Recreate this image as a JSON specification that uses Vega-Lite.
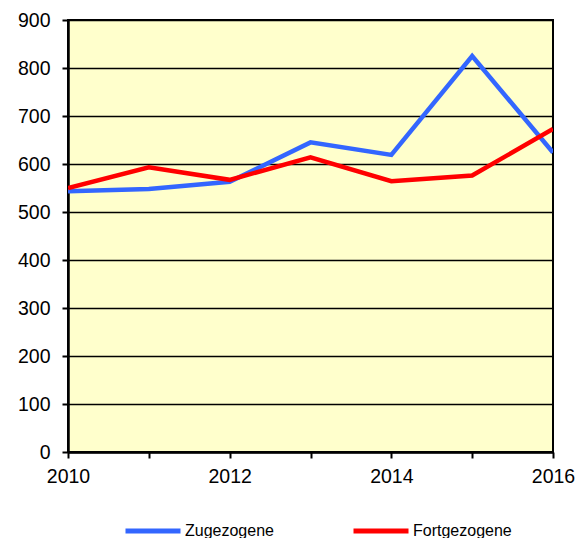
{
  "$schema": "https://vega.github.io/schema/vega-lite/v6.json",
  "width": 485,
  "height": 432,
  "autosize": {"type": "none"},
  "padding": {"left": 68, "top": 20, "right": 35, "bottom": 86},
  "background": "white",
  "config": {
    "font": "Liberation Sans",
    "view": {"fill": "#FFFFCC", "stroke": "black", "strokeWidth": 2},
    "legend": {"padding": 0, "offset": 0},
    "axis": {
      "domainColor": "black", "domainWidth": 2.5,
      "tickColor": "black", "tickWidth": 2, "tickSize": 6,
      "labelColor": "black", "labelFontSize": 19.5, "labelFont": "Liberation Sans",
      "gridColor": "black", "gridWidth": 1.5, "gridOpacity": 1,
      "title": null
    }
  },
  "data": {"values": [
    {"year": 2010, "series": "Zugezogene", "value": 543},
    {"year": 2011, "series": "Zugezogene", "value": 548},
    {"year": 2012, "series": "Zugezogene", "value": 563},
    {"year": 2013, "series": "Zugezogene", "value": 645},
    {"year": 2014, "series": "Zugezogene", "value": 619},
    {"year": 2015, "series": "Zugezogene", "value": 825},
    {"year": 2016, "series": "Zugezogene", "value": 624},
    {"year": 2010, "series": "Fortgezogene", "value": 550},
    {"year": 2011, "series": "Fortgezogene", "value": 593},
    {"year": 2012, "series": "Fortgezogene", "value": 567},
    {"year": 2013, "series": "Fortgezogene", "value": 614},
    {"year": 2014, "series": "Fortgezogene", "value": 564},
    {"year": 2015, "series": "Fortgezogene", "value": 576},
    {"year": 2016, "series": "Fortgezogene", "value": 673}
  ]},
  "mark": {"type": "line", "strokeWidth": 4.5, "clip": true},
  "encoding": {
    "x": {
      "field": "year", "type": "quantitative",
      "scale": {"domain": [2010, 2016], "nice": false, "zero": false},
      "axis": {
        "values": [2010, 2011, 2012, 2013, 2014, 2015, 2016],
        "format": "d",
        "labelExpr": "datum.value % 2 == 0 ? datum.label : ''",
        "grid": false, "labelPadding": 9, "labelFlush": false
      }
    },
    "y": {
      "field": "value", "type": "quantitative",
      "scale": {"domain": [0, 900], "nice": false},
      "axis": {"values": [0, 100, 200, 300, 400, 500, 600, 700, 800, 900], "grid": true, "labelPadding": 12}
    },
    "color": {
      "field": "series", "type": "nominal",
      "scale": {"domain": ["Zugezogene", "Fortgezogene"], "range": ["#3366FF", "#FF0000"]},
      "legend": {
        "title": null, "orient": "none", "direction": "horizontal",
        "legendX": 55, "legendY": 481,
        "symbolType": "stroke", "symbolSize": 3025, "symbolStrokeWidth": 5,
        "labelFontSize": 16, "labelColor": "black", "labelOffset": 2,
        "columnPadding": 69
      }
    }
  }
}
